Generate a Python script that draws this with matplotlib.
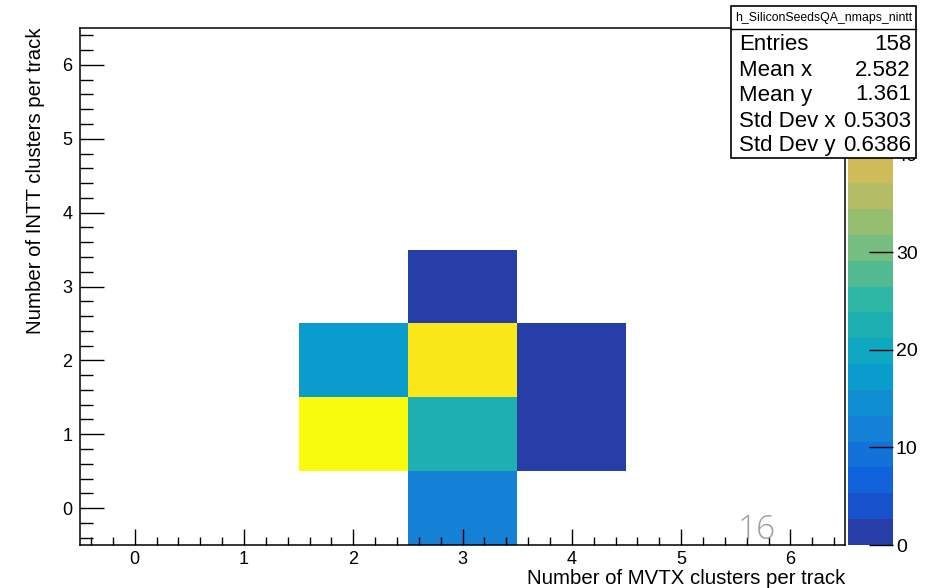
import numpy as np
import matplotlib
matplotlib.use("Agg")
import matplotlib.pyplot as plt
from matplotlib.colors import LinearSegmentedColormap, ListedColormap, Normalize
from matplotlib.patches import Rectangle
from matplotlib.lines import Line2D
from matplotlib.ticker import MultipleLocator

plt.rcParams['font.family'] = ['Liberation Sans', 'DejaVu Sans']

# ---- data (bin contents of the 2D histogram) ----
mvtx_clusters = [2, 2, 3, 3, 3, 3, 4, 4]
intt_clusters = [1, 2, 0, 1, 2, 3, 1, 2]
counts = [53, 16, 13, 22, 50, 1, 1, 2]
x_ticks = [0, 1, 2, 3, 4, 5, 6]
y_ticks = [0, 1, 2, 3, 4, 5, 6]
cbar_ticks = [0, 10, 20, 30, 40]
hist_name = "h_SiliconSeedsQA_nmaps_nintt"
x_title = "Number of MVTX clusters per track"
y_title = "Number of INTT clusters per track"
page_number = "16"

W, H = 925, 588
fig = plt.figure(figsize=(W / 100, H / 100), dpi=100)

def fx(x):
    return x / W

def fy(y):
    return 1 - y / H

# axes geometry in pixels
L, R, T, B = 80, 845, 28, 545
ax = fig.add_axes([fx(L), fy(B), fx(R - L), (B - T) / H])
cax = fig.add_axes([fx(848), fy(B), fx(45), (B - T) / H])

# ROOT kBird palette
stops = [0.0, 0.125, 0.25, 0.375, 0.5, 0.625, 0.75, 0.875, 1.0]
red = [0.2082, 0.0592, 0.0780, 0.0232, 0.1802, 0.5301, 0.8186, 0.9956, 0.9764]
green = [0.1664, 0.3599, 0.5041, 0.6419, 0.7178, 0.7492, 0.7328, 0.7862, 0.9832]
blue = [0.5293, 0.8684, 0.8385, 0.7914, 0.6425, 0.4662, 0.3499, 0.1968, 0.0539]
bird = LinearSegmentedColormap.from_list(
    "bird", list(zip(stops, zip(red, green, blue))), N=256)
ncont = 20
cmap = ListedColormap([bird((i + 0.99) / ncont) for i in range(ncont)])

edges = np.arange(-0.5, 7.0, 1.0)
Hh, xe, ye = np.histogram2d(mvtx_clusters, intt_clusters, bins=[edges, edges],
                            weights=counts)
Hm = np.ma.masked_equal(Hh.T, 0)
vmax = float(np.max(counts))
norm = Normalize(vmin=0, vmax=vmax)
mesh = ax.pcolormesh(xe, ye, Hm, cmap=cmap, norm=norm)

ax.set_xlim(-0.5, 6.5)
ax.set_ylim(-0.5, 6.5)
ax.set_xticks(x_ticks)
ax.set_yticks(y_ticks)
ax.xaxis.set_minor_locator(MultipleLocator(0.2))
ax.yaxis.set_minor_locator(MultipleLocator(0.2))
ax.tick_params(axis='x', which='major', direction='in', length=11.5, width=1.0,
               labelsize=13, pad=4)
ax.tick_params(axis='x', which='minor', direction='in', length=5.5, width=1.0)
ax.tick_params(axis='y', which='major', direction='in', length=17, width=1.0,
               labelsize=13, pad=5.5)
ax.tick_params(axis='y', which='minor', direction='in', length=9.5, width=1.0)
for s in ax.spines.values():
    s.set_linewidth(1.1)

# colorbar
cb = fig.colorbar(mesh, cax=cax)
cb.outline.set_visible(False)
cb.set_ticks(cbar_ticks)
cax.tick_params(axis='y', which='major', direction='in', length=17.5, width=1.0,
                labelsize=14, pad=2, right=True, left=False)
cax.yaxis.set_ticks_position('right')
cax.minorticks_off()

# axis titles
fig.text(fx(R), fy(578), x_title, ha='right', va='center', fontsize=14.7)
fig.text(fx(36), fy(27), y_title, ha='center', va='top', rotation=90,
         fontsize=14.7)

# stats box
xs = np.array(mvtx_clusters, float)
ys = np.array(intt_clusters, float)
w = np.array(counts, float)
n = w.sum()
mx = (w * xs).sum() / n
my = (w * ys).sum() / n
sx = np.sqrt((w * (xs - mx) ** 2).sum() / n)
sy = np.sqrt((w * (ys - my) ** 2).sum() / n)

bx0, bx1, by0, by1, bsep = 731, 916, 6, 158, 29
fig.patches.append(Rectangle((fx(bx0), fy(by1)), fx(bx1 - bx0), (by1 - by0) / H,
                             transform=fig.transFigure, facecolor='white',
                             edgecolor='black', linewidth=1.2, zorder=10))
fig.lines.append(Line2D([fx(bx0), fx(bx1)], [fy(bsep), fy(bsep)],
                        transform=fig.transFigure, color='black', linewidth=1.0,
                        zorder=11))
fig.text(fx((bx0 + bx1) / 2), fy(17.5), hist_name, ha='center', va='center',
         fontsize=8.8, zorder=12)
rows = [("Entries", "%d" % int(n)),
        ("Mean x", "%.4g" % mx),
        ("Mean y", "%.4g" % my),
        ("Std Dev x", "%.4g" % sx),
        ("Std Dev y", "%.4g" % sy)]
row_y = [44, 70, 95, 121, 146]
for (lab, val), yy in zip(rows, row_y):
    fig.text(fx(739), fy(yy), lab, ha='left', va='center', fontsize=16, zorder=12)
    fig.text(fx(911), fy(yy), val, ha='right', va='center', fontsize=16, zorder=12)

# slide page number overlay
fig.text(fx(757), fy(530), page_number, ha='center', va='center', fontsize=24,
         color='#a0a0a0', family=['Open Sans', 'DejaVu Sans'], fontweight='light')

fig.savefig("out.png", dpi=100)
